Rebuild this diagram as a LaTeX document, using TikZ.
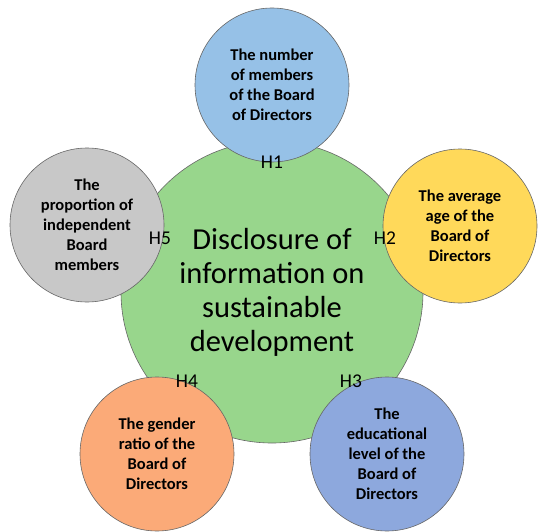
\documentclass[tikz,border=0pt]{standalone}
\usepackage{fontspec}
\setmainfont{Carlito}
\usepackage{xcolor}
\usepackage{tikz}

\definecolor{sdgreen}{RGB}{152,214,140}
\definecolor{sdblue}{RGB}{150,193,231}
\definecolor{sdyellow}{RGB}{255,217,90}
\definecolor{sdorange}{RGB}{251,170,120}
\definecolor{sdviolet}{RGB}{141,168,221}
\definecolor{sdgray}{RGB}{200,200,200}

\begin{document}
\begin{tikzpicture}[x=1pt,y=-1pt,every node/.style={align=center,inner sep=0pt},factor/.style={circle,draw=black!60,line width=0.6pt,minimum size=154pt,font=\fontsize{16.5}{20}\selectfont\bfseries},hyp/.style={font=\fontsize{19.5}{20}\selectfont}]
\useasboundingbox (0,0) rectangle (546,532);

\node[circle,draw=black!60,line width=0.6pt,fill=sdgreen,minimum size=302pt,font=\fontsize{30.5}{34}\selectfont] (dsd) at (272,292) {Disclosure of\\information on\\sustainable\\development};

\node[factor,fill=sdblue] (size) at (272,85) {The number\\of members\\of the Board\\of Directors};
\node[factor,fill=sdyellow] (age) at (460,226) {The average\\age of the\\Board of\\Directors};
\node[factor,fill=sdviolet] (edu) at (387,454) {The\\educational\\level of the\\Board of\\Directors};
\node[factor,fill=sdorange] (gender) at (157,454) {The gender\\ratio of the\\Board of\\Directors};
\node[factor,fill=sdgray] (indep) at (87,225) {The\\proportion of\\independent\\Board\\members};

\node[hyp] (h1) at (272,162) {H1};
\node[hyp] (h2) at (385,238) {H2};
\node[hyp] (h3) at (351,381) {H3};
\node[hyp] (h4) at (187,381) {H4};
\node[hyp] (h5) at (160,238) {H5};
\end{tikzpicture}
\end{document}
